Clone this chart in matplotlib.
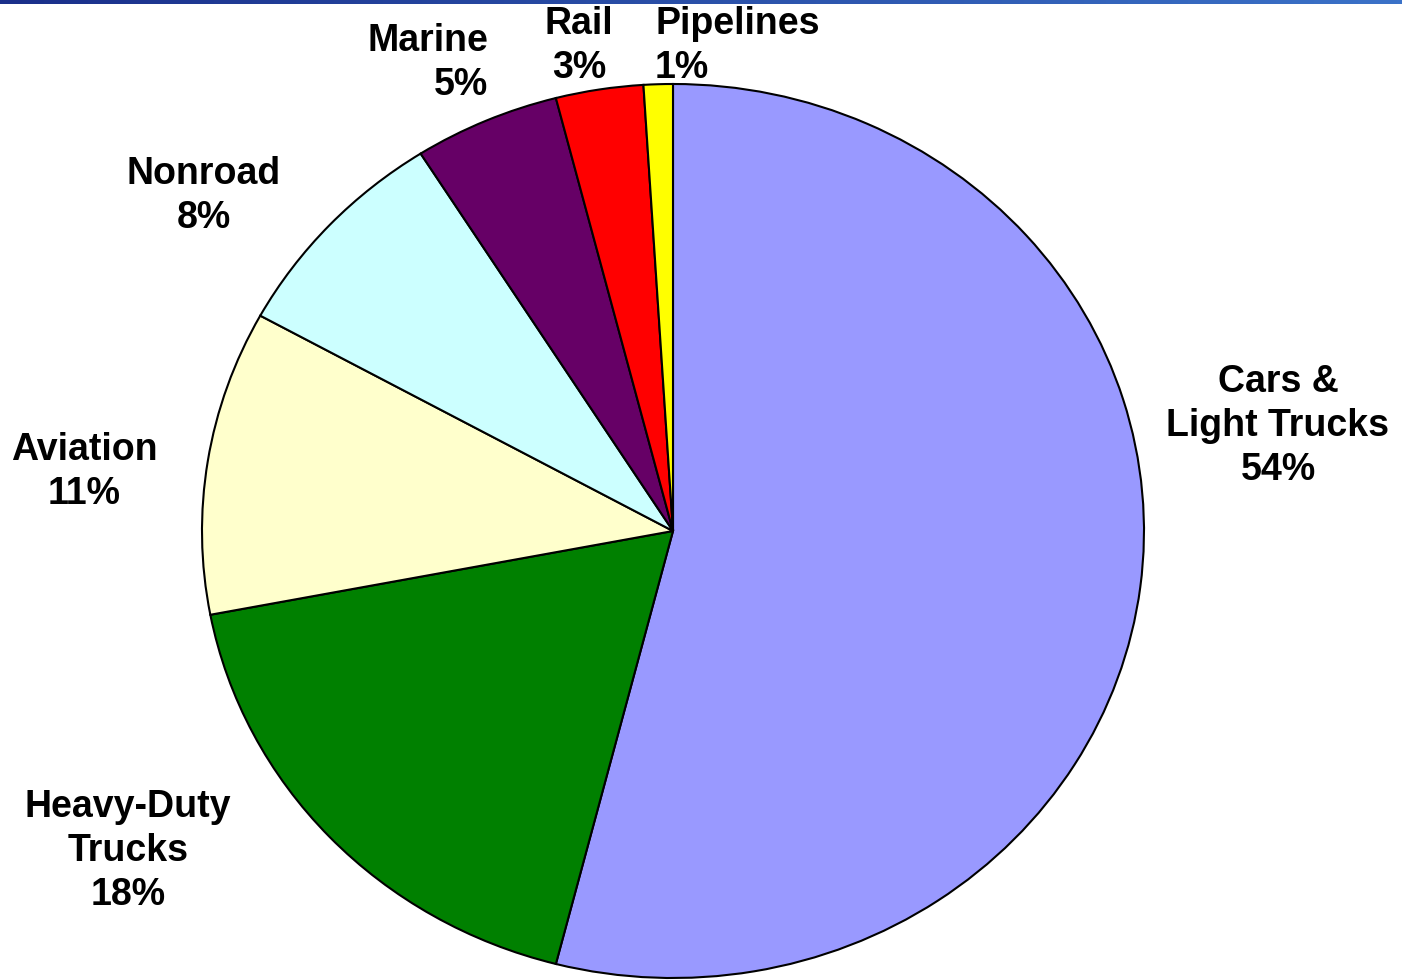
import numpy as np
import matplotlib.pyplot as plt
from matplotlib.colors import LinearSegmentedColormap

plt.rcParams['font.family'] = ['Liberation Sans', 'DejaVu Sans']

modes = ["Cars &\nLight Trucks", "Heavy-Duty\nTrucks", "Aviation", "Nonroad",
         "Marine", "Rail", "Pipelines"]
shares = [54, 18, 11, 8, 5, 3, 1]
colors = ["#9999FF", "#008000", "#FFFFCC", "#CCFFFF", "#660066", "#FF0000", "#FFFF00"]

# label centres in pixels (x, y from top) and alignment
label_pos = [(1278, 426, 'center'), (128, 851, 'center'), (84, 472, 'center'),
             (204, 196, 'center'), (488, 63, 'right'), (579, 46, 'center'),
             (655, 46, 'left')]

W, H = 1402, 980
cx, cy, rx, ry = 673, 531, 471, 447


def to_data(px, py):
    return (px - cx) / rx, (cy - py) / ry


fig = plt.figure(figsize=(W / 100, H / 100), dpi=100)
ax = fig.add_axes([0, 0, 1, 1])
ax.pie(shares, colors=colors, startangle=90, counterclock=False,
       wedgeprops=dict(edgecolor='black', linewidth=1.5))
ax.set_aspect('auto')
x0, _ = to_data(0, 0)
x1, _ = to_data(W, 0)
_, y0 = to_data(0, H)
_, y1 = to_data(0, 0)
ax.set_xlim(x0, x1)
ax.set_ylim(y0, y1)
ax.axis('off')

for name, val, (px, py, ha) in zip(modes, shares, label_pos):
    x, y = to_data(px, py)
    ax.text(x, y, f"{name}\n{val}%", ha=ha, va='center', fontsize=27,
            fontweight='bold', linespacing=1.3)

# thin blue gradient strip along the top edge
bar = fig.add_axes([0, 1 - 4 / H, 1, 4 / H])
grad = np.linspace(0, 1, 256).reshape(1, -1)
cmap = LinearSegmentedColormap.from_list("topbar", ["#1a2f8a", "#3b72c8"])
bar.imshow(grad, aspect='auto', cmap=cmap)
bar.axis('off')

fig.savefig("out.png", dpi=100)
plt.close()
